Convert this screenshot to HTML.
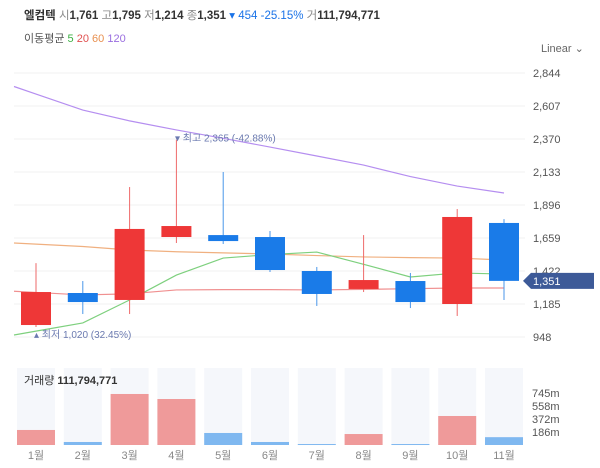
<!DOCTYPE html>
<html><head><meta charset="utf-8"><style>
body{margin:0;background:#fff;font-family:"Liberation Sans","Noto Sans CJK KR",sans-serif;}
#wrap{position:relative;width:600px;height:468px;overflow:hidden}
.hdr{position:absolute;left:24px;top:7px;font-size:11.5px;color:#333;white-space:nowrap}
.ma{position:absolute;left:24px;top:30px;font-size:11px;color:#555}
.lin{position:absolute;left:541px;top:42px;font-size:11px;color:#666}
</style></head><body>
<div id="wrap">
<div class="hdr"><b>엘컴텍</b> <span style="color:#888">시</span><b>1,761</b> <span style="color:#888">고</span><b>1,795</b> <span style="color:#888">저</span><b>1,214</b> <span style="color:#888">종</span><b>1,351</b> <span style="color:#1a73e8">▾ 454 -25.15%</span> <span style="color:#888">거</span><b>111,794,771</b></div>
<div class="ma">이동평균 <span style="color:#3cb043">5</span> <span style="color:#e05050">20</span> <span style="color:#e89050">60</span> <span style="color:#9a6ee0">120</span></div>
<div class="lin">Linear ⌄</div>
<svg id="svg" width="600" height="468" style="position:absolute;left:0;top:0"></svg>
</div>
<script>
const months=["1월","2월","3월","4월","5월","6월","7월","8월","9월","10월","11월"];
const opens=[1034,1264,1214,1666,1680,1666,1422,1293,1350,1185,1767];
const closes=[1271,1199,1724,1745,1637,1429,1257,1357,1199,1810,1351];
const highs=[1479,1350,2025,2365,2133,1709,1451,1680,1408,1867,1795];
const lows=[1020,1113,1113,1623,1616,1415,1171,1271,1156,1099,1214];
const volumes=[215,43,730,658,172,43,14,157,14,415,112];
const ma5=[990,1049,1214,1393,1515,1540,1558,1470,1379,1408,1400];
const ma20=[1268,1250,1258,1286,1288,1288,1286,1290,1295,1300,1300];
const ma60=[1615,1598,1573,1560,1552,1544,1533,1523,1518,1515,1501];
const ma120=[2693,2578,2500,2435,2375,2312,2248,2183,2100,2032,1982];
const priceTicks=[2844,2607,2370,2133,1896,1659,1422,1185,948];
const volTicks=[745,558,372,186];
const NS="http://www.w3.org/2000/svg";
const svg=document.getElementById('svg');
function el(t,a,p){const e=document.createElementNS(NS,t);for(const k in a)e.setAttribute(k,a[k]);(p||svg).appendChild(e);return e;}
const py=v=>337-(v-948)*264/1896;
const xc=i=>36+i*46.8;
const vy=v=>445-v*13/186;
priceTicks.forEach(t=>{
 const l=el('line',{x1:14,x2:525,y1:py(t),y2:py(t),stroke:'#f2f2f2'});
 
 const tx=el('text',{x:533,y:py(t)+4,'font-size':11,fill:'#555'});tx.textContent=t.toLocaleString('en-US');
 
});
months.forEach((m,i)=>{
 const bg=el('rect',{x:xc(i)-19,y:368,width:38,height:77,fill:'#f5f7fb'});
 
 const up=closes[i]>=opens[i];
 const b=el('rect',{x:xc(i)-19,y:vy(volumes[i]),width:38,height:Math.max(1,445-vy(volumes[i])),fill:up?'#ef9a9a':'#7fb8f0'});
 
 const t=el('text',{x:xc(i),y:459,'font-size':11,fill:'#888','text-anchor':'middle'});t.textContent=m;
 
});
volTicks.forEach(v=>{const t=el('text',{x:532,y:vy(v)+4,'font-size':11,fill:'#555'});t.textContent=v+'m';
 });
const vt=el('text',{x:24,y:384,'font-size':11,fill:'#333'});vt.innerHTML='거래량 <tspan font-weight="bold">111,794,771</tspan>';

function line(arr,c,name){
 const slope=(arr[1]-arr[0]);let d='M14,'+py(arr[0]-slope*22/46.8);
 arr.forEach((v,i)=>{d+=' L'+xc(i)+','+py(v);});
 const p=el('path',{d:d,fill:'none',stroke:c,'stroke-width':1.2});}
line(ma120,'#b58ef0','ma120-line');
line(ma60,'#f0b080','ma60-line');
line(ma20,'#f09090','ma20-line');
line(ma5,'#7ed07e','ma5-line');
months.forEach((m,i)=>{
 const up=closes[i]>=opens[i];const c=up?'#ee3737':'#1a7be8';
 const w=el('line',{x1:xc(i),x2:xc(i),y1:py(highs[i]),y2:py(lows[i]),stroke:up?'#ee6a6a':'#4a96ea','stroke-width':1});
 
 const top=py(Math.max(opens[i],closes[i])),bot=py(Math.min(opens[i],closes[i]));
 const r=el('rect',{x:xc(i)-15,y:top,width:30,height:Math.max(1,bot-top),fill:c});
 
});
const hi=el('text',{x:175,y:py(2365)+2,'font-size':10,fill:'#6b7ab0'});hi.textContent='▾ 최고 2,365 (-42.88%)';

const lo=el('text',{x:34,y:py(1020)+11,'font-size':10,fill:'#6b7ab0'});lo.textContent='▴ 최저 1,020 (32.45%)';

const cy=py(1351);
const tag=el('path',{d:`M523,${cy} L531,${cy-8} L594,${cy-8} L594,${cy+8} L531,${cy+8} Z`,fill:'#3d5a98'});

const tt=el('text',{x:533,y:cy+4,'font-size':11,fill:'#fff'});tt.textContent='1,351';

</script>
</body></html>
